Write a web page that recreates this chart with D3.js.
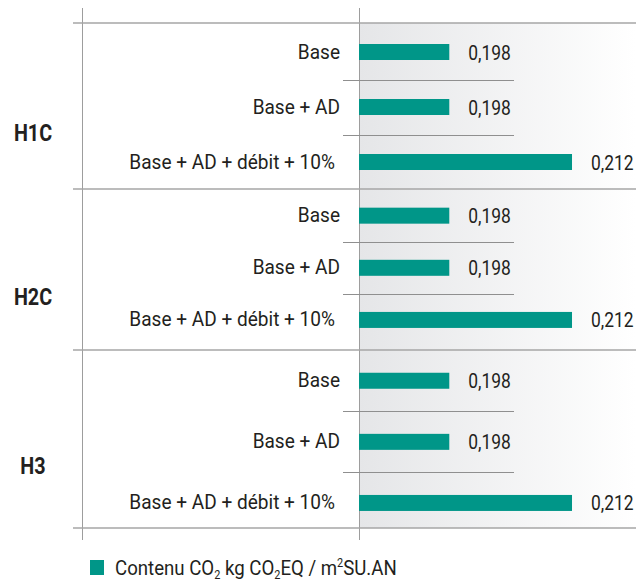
<!DOCTYPE html>
<html>
<head>
<meta charset="utf-8">
<script src="https://cdn.jsdelivr.net/npm/d3@7"></script>
<style>
  html, body { margin: 0; padding: 0; background: #ffffff; }
  svg { display: block; }
  text { font-family: Roboto, "Liberation Sans", sans-serif; fill: #231f20; }
</style>
</head>
<body>
<svg id="chart" width="636" height="582"></svg>
<script>
// ---- Data ----
const groups = ["H1C", "H2C", "H3"];
const scenarios = ["Base", "Base + AD", "Base + AD + débit + 10%"];
const valuesH1C = [0.198, 0.198, 0.212];
const valuesH2C = [0.198, 0.198, 0.212];
const valuesH3  = [0.198, 0.198, 0.212];
const seriesValues = [valuesH1C, valuesH2C, valuesH3];
const formatValue = v => d3.format(".3f")(v).replace(".", ",");

// ---- Layout ----
const W = 636, H = 582;
const groupBounds = [23, 189, 350, 528];   // horizontal group rules
const rowRanges = [[24.5, 189.5], [189.6, 346], [350.2, 533.5]];
const axisX = 359, outerX = 82;
const color = "#009688";

const svg = d3.select("#chart");

const x = d3.scaleLinear().domain([0.1877, 0.2193]).range([axisX, W]);

// gradient background
const defs = svg.append("defs");
const grad = defs.append("linearGradient").attr("id", "bg").attr("x1", "0").attr("x2", "1").attr("y1", "0").attr("y2", "0");
grad.append("stop").attr("offset", "0").attr("stop-color", "#e5e6e8");
grad.append("stop").attr("offset", "1").attr("stop-color", "#ffffff");
svg.append("rect").attr("x", axisX).attr("y", groupBounds[0])
  .attr("width", W - axisX).attr("height", groupBounds[3] - groupBounds[0])
  .attr("fill", "url(#bg)");

// vertical rules
[outerX, axisX].forEach(xx => {
  svg.append("line").attr("x1", xx + 0.5).attr("x2", xx + 0.5).attr("y1", 8).attr("y2", 540)
    .attr("stroke", "#9d9d9d").attr("stroke-width", 1);
});

// group horizontal rules
groupBounds.forEach(yy => {
  svg.append("line").attr("x1", 73).attr("x2", W).attr("y1", yy).attr("y2", yy)
    .attr("stroke", "#a6a6a6").attr("stroke-width", 1.6);
});

groups.forEach((g, gi) => {
  const y = d3.scaleBand().domain(scenarios).range(rowRanges[gi]).padding(0);
  const vals = seriesValues[gi];
  const gg = svg.append("g");

  // separators between rows
  scenarios.slice(1).forEach(s => {
    const yy = Math.round(y(s)) + 0.5;
    gg.append("line").attr("x1", 343).attr("x2", 514).attr("y1", yy).attr("y2", yy)
      .attr("stroke", "#8f8f8f").attr("stroke-width", 1);
  });

  scenarios.forEach((s, i) => {
    const cy = y(s) + y.bandwidth() / 2;
    gg.append("rect").attr("x", x.range()[0]).attr("y", cy - 8)
      .attr("width", x(vals[i]) - x.range()[0]).attr("height", 16)
      .attr("fill", color);
    gg.append("text")
      .attr("transform", `translate(${i === 2 ? 335 : 340},${cy + 6.5}) scale(0.93,1)`)
      .attr("text-anchor", "end").attr("font-size", 20.5)
      .text(s);
    gg.append("text")
      .attr("transform", `translate(${x(vals[i]) + 19},${cy + 7.5}) scale(0.83,1)`)
      .attr("font-size", 21)
      .text(formatValue(vals[i]));
  });

  const mid = (groupBounds[gi] + groupBounds[gi + 1]) / 2;
  gg.append("text")
    .attr("transform", `translate(33,${mid + 35}) scale(0.86,1)`)
    .attr("text-anchor", "middle").attr("font-size", 23).attr("font-weight", "bold")
    .text(g);
});

// legend
svg.append("rect").attr("x", 90).attr("y", 560).attr("width", 14).attr("height", 15).attr("fill", color);
const lt = svg.append("text").attr("transform", "translate(115,575) scale(0.91,1)").attr("font-size", 20.5);
lt.append("tspan").text("Contenu CO");
lt.append("tspan").attr("font-size", 12).attr("dy", 4).text("2");
lt.append("tspan").attr("dy", -4).text(" kg CO");
lt.append("tspan").attr("font-size", 12).attr("dy", 4).text("2");
lt.append("tspan").attr("dy", -4).text("EQ / m");
lt.append("tspan").attr("font-size", 12).attr("dy", -8).text("2");
lt.append("tspan").attr("dy", 8).text("SU.AN");
</script>
</body>
</html>
